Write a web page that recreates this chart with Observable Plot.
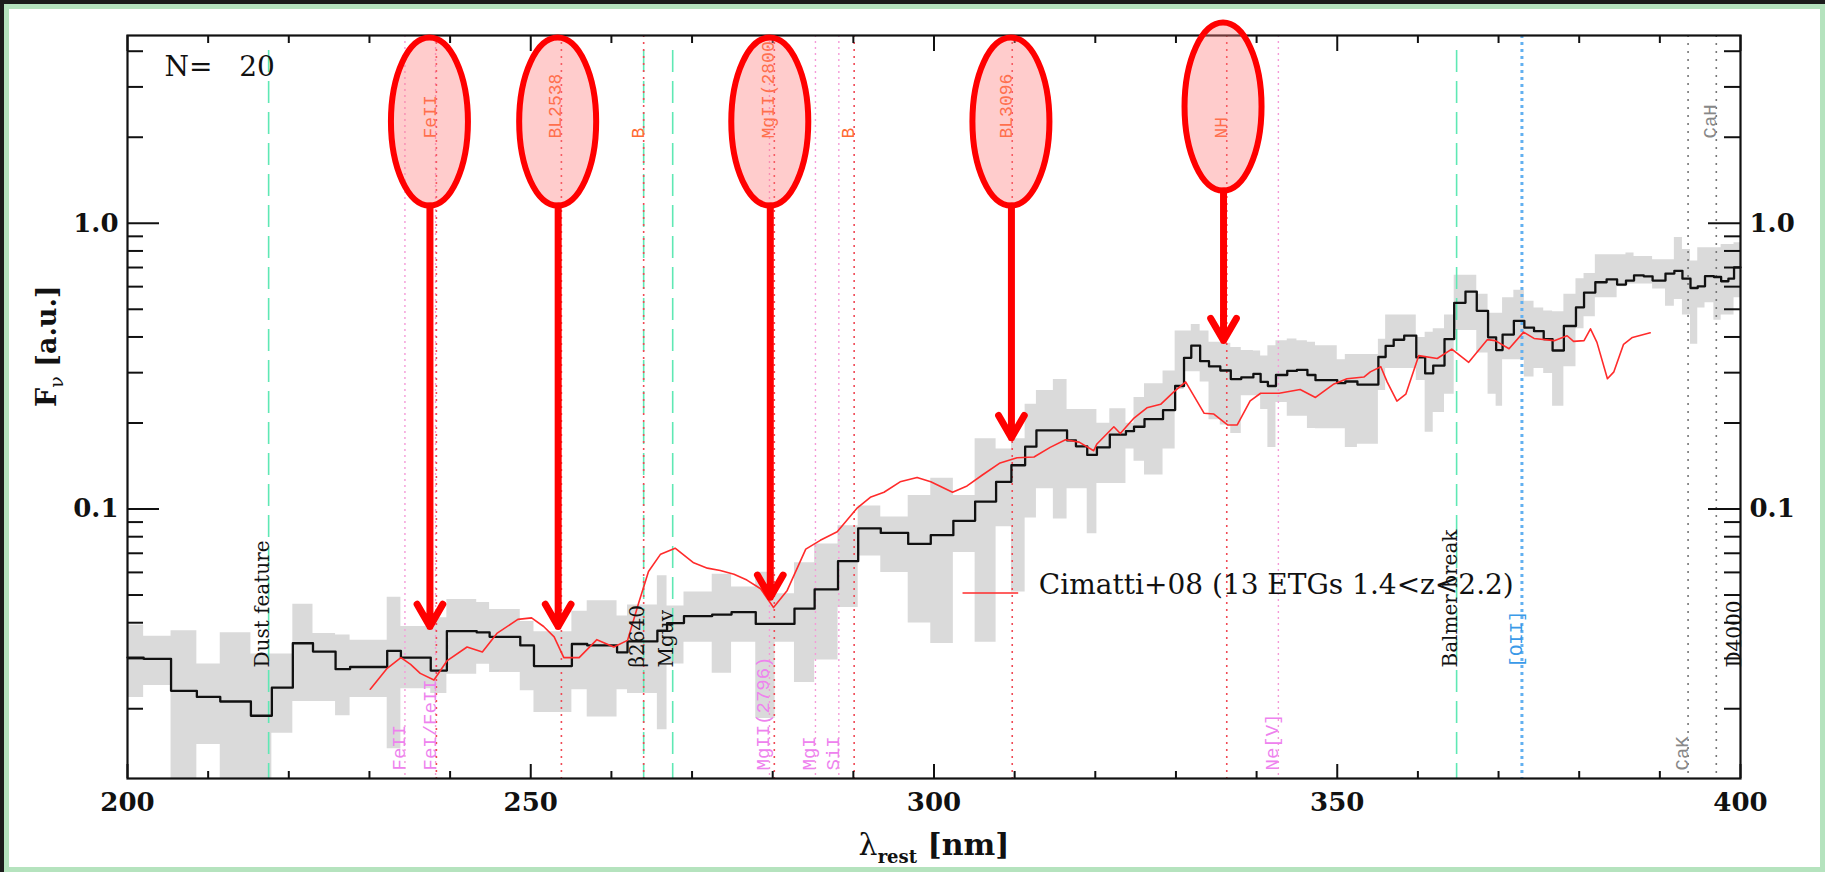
<!DOCTYPE html>
<html><head><meta charset="utf-8">
<script src="https://cdn.jsdelivr.net/npm/d3@7"></script>
<script src="https://cdn.jsdelivr.net/npm/@observablehq/plot@0.6"></script>
<style>
html,body{margin:0;padding:0;background:#1c1c1c;}
#page{position:relative;width:1825px;height:872px;background:#1c1c1c;overflow:hidden;}
#inner{position:absolute;left:4px;top:4px;width:1821px;height:868px;background:#fff;border:5px solid #b5e3be;box-sizing:border-box;}
#chart{position:absolute;left:0;top:0;width:1825px;height:872px;}
</style></head>
<body><div id="page"><div id="inner"></div><div id="chart"></div></div>
<script>
// ---- stacked spectrum (median, step histogram) : bin start wavelength [nm]
const binStart = [200.0,202.0,205.4,208.6,211.5,215.3,217.9,220.5,223.0,225.8,227.6,232.2,233.9,237.6,239.6,243.3,244.9,248.7,250.4,255.1,257.0,260.7,262.0,265.7,266.9,269.0,272.5,274.9,277.9,280.3,282.7,285.2,288.1,290.6,293.4,296.8,299.6,302.4,305.1,307.7,309.6,311.3,312.7,314.8,316.5,317.6,319.0,320.2,321.8,323.8,324.8,326.1,328.4,329.9,331.0,331.9,333.0,334.1,335.5,336.8,338.1,339.6,340.5,341.4,342.4,343.8,345.0,346.3,347.3,350.0,351.0,352.5,355.1,356.0,357.0,358.3,359.8,360.9,361.9,363.3,364.5,365.9,367.3,368.7,369.7,370.5,371.9,373.2,374.4,375.6,376.7,378.1,379.6,380.6,382.0,383.4,384.7,385.8,386.8,388.0,389.1,390.7,391.8,392.8,393.8,394.7,395.6,396.7,397.6,398.5,399.2];
const binEnd = 400;
const fluxMedian = [0.0302,0.0299,0.0231,0.0220,0.0212,0.0189,0.0237,0.0339,0.0317,0.0275,
0.0280,0.0319,0.0302,0.0272,0.0374,0.0370,0.0357,0.0333,0.0282,0.0337,
0.0333,0.0315,0.0344,0.0375,0.0399,0.0422,0.0427,0.0436,0.0396,0.0396,
0.0448,0.0523,0.0657,0.0856,0.0825,0.0755,0.0810,0.0909,0.1062,0.1245,
0.1423,0.1652,0.1884,0.1884,0.1738,0.1657,0.1546,0.1643,0.1820,0.1873,
0.1940,0.2063,0.2219,0.2695,0.3382,0.3728,0.3291,0.3156,0.3053,0.2849,
0.2888,0.2969,0.2785,0.2695,0.2944,0.3043,0.3070,0.2944,0.2824,0.2756,
0.2794,0.2725,0.3404,0.3720,0.3911,0.4043,0.3393,0.2981,0.3176,0.3932,
0.5266,0.5768,0.4938,0.3988,0.3598,0.4079,0.4554,0.4311,0.4192,0.3932,
0.3587,0.4370,0.5079,0.5722,0.6217,0.6360,0.6099,0.6303,0.6574,0.6521,
0.6303,0.6665,0.6817,0.6397,0.5934,0.6016,0.6536,0.6484,0.6268,0.6397,
0.7006];
const fluxLow = [0.0219,0.0241,0.0100,0.0150,0.0100,0.0100,0.0164,0.0212,0.0212,0.0189,
0.0219,0.0145,0.0235,0.0226,0.0264,0.0286,0.0268,0.0231,0.0194,0.0233,
0.0187,0.0233,0.0226,0.0169,0.0287,0.0342,0.0266,0.0342,0.0185,0.0342,
0.0247,0.0296,0.0452,0.0685,0.0600,0.0399,0.0338,0.0705,0.0342,0.0867,
0.0512,0.0930,0.1178,0.0922,0.1178,0.1178,0.0820,0.1227,0.1227,0.1621,
0.1470,0.1315,0.1621,0.2620,0.3025,0.3025,0.2784,0.2051,0.1969,0.1837,
0.2491,0.2491,0.2231,0.1643,0.2359,0.2111,0.2111,0.1914,0.1911,0.1911,
0.1640,0.1686,0.2598,0.3105,0.3105,0.3105,0.2818,0.1857,0.2177,0.2522,
0.4214,0.4214,0.3517,0.2522,0.2287,0.3327,0.3327,0.2897,0.3105,0.2979,
0.2287,0.3148,0.4272,0.4711,0.5487,0.5487,0.6000,0.6135,0.6135,0.6135,
0.5883,0.5119,0.5412,0.4776,0.3769,0.5049,0.5266,0.4579,0.4776,0.4776,
0.5487];
const fluxHigh = [0.0393,0.0359,0.0375,0.0287,0.0369,0.0311,0.0311,0.0464,0.0367,0.0362,
0.0347,0.0491,0.0388,0.0416,0.0482,0.0471,0.0445,0.0404,0.0372,0.0439,
0.0477,0.0422,0.0461,0.0584,0.0458,0.0512,0.0591,0.0533,0.0601,0.0505,
0.0648,0.0755,0.0873,0.1024,0.0937,0.1114,0.1280,0.1114,0.1761,0.1621,
0.1761,0.2325,0.2598,0.2839,0.2231,0.2231,0.2231,0.1996,0.2244,0.1996,
0.2457,0.2746,0.3043,0.4200,0.4200,0.4426,0.4200,0.3831,0.3800,0.3677,
0.3584,0.3574,0.3428,0.3728,0.3882,0.3938,0.3882,0.3831,0.3728,0.3327,
0.3472,0.3472,0.3930,0.4776,0.4776,0.4776,0.3983,0.4159,0.4272,0.4776,
0.6576,0.6576,0.5644,0.4842,0.4842,0.5487,0.5831,0.5339,0.5049,0.4931,
0.4904,0.5644,0.6396,0.6665,0.7766,0.7766,0.7766,0.7873,0.7652,0.7652,
0.7448,0.7448,0.8922,0.8091,0.7376,0.8210,0.8210,0.8210,0.8431,0.8431,
0.8550];

// ---- Cimatti+08 template (red)
const cimattiNm = [230.1,232.2,233.9,235.1,236.3,238.0,239.6,242.1,244.0,245.8,
248.4,250.1,251.6,252.9,254.1,256.0,258.2,260.3,262.0,263.4,
264.6,266.1,267.9,270.2,271.9,273.5,275.2,276.8,278.5,280.1,
281.8,284.1,285.9,288.0,290.5,292.1,293.8,295.8,297.9,299.6,
302.3,304.1,306.0,308.2,310.3,312.4,314.4,316.3,318.0,319.8,
320.2,322.3,323.1,324.8,326.4,328.1,329.7,331.2,333.5,334.7,
336.4,337.6,339.2,340.5,342.8,345.4,347.3,349.6,351.2,353.3,
354.1,355.4,356.2,357.4,358.5,360.1,362.4,364.2,366.3,368.6,
369.6,371.3,373.1,374.4,376.9,378.5,379.3,380.6,381.4,382.2,
383.5,384.3,385.5,386.6,388.8];
const cimattiFlux = [0.0234,0.0277,0.0302,0.0286,0.0266,0.0252,0.0294,0.0329,0.0316,0.0367,
0.0411,0.0416,0.0388,0.0357,0.0302,0.0302,0.0349,0.0329,0.0347,0.0471,
0.0604,0.0695,0.0729,0.0648,0.0621,0.0609,0.0591,0.0564,0.0526,0.0452,
0.0519,0.0724,0.0777,0.0832,0.1010,0.1099,0.1145,0.1245,0.1290,0.1245,
0.1145,0.1204,0.1315,0.1450,0.1512,0.1520,0.1643,0.1747,0.1714,0.1599,
0.1689,0.1940,0.1837,0.2081,0.2261,0.2325,0.2563,0.2784,0.2162,0.2149,
0.1969,0.1969,0.2391,0.2542,0.2542,0.2620,0.2457,0.2740,0.2857,0.2897,
0.3020,0.3148,0.2780,0.2385,0.2522,0.3441,0.3362,0.3629,0.3261,0.3915,
0.3883,0.3638,0.4159,0.3953,0.3883,0.4040,0.3861,0.3883,0.4272,0.3830,
0.2857,0.3020,0.3769,0.3985,0.4137];

// ---- ticks
const xMajorTicks = [200, 250, 300, 350, 400];
const xTickLabels = ["200", "250", "300", "350", "400"];
const xMinorTicks = [210,220,230,240,260,270,280,290,310,320,330,340,360,370,380,390];
const yMajorTicks = [0.1, 1];
const yTickLabels = ["0.1", "1.0"];
const yMinorTicks = [0.02,0.03,0.04,0.05,0.06,0.07,0.08,0.09,0.2,0.3,0.4,0.5,0.6,0.7,0.8,0.9,2,3,4];

// ---- spectral feature lines [nm]
const greenLines = [217.5, 264.0, 267.6, 364.8];
const redLines = [238.3, 253.8, 264.0, 280.2, 290.1, 309.7, 336.3];
const redLineLabels = ["FeII", "BL2538", "B", "MgII(2800", "B", "BL3096", "NH"];
const pinkLines = [234.4, 238.2, 279.6, 285.3, 288.2, 342.7];
const pinkLineLabels = ["FeII", "FeI/FeII", "MgII(2796)", "MgI", "SiI", "Ne[V]"];
const blueLines = [372.9];
const blueLineLabels = ["[OII]"];
const grayLines = [393.5, 397.0];
const grayLabelsBottom = ["CaK"];
const grayLabelsTop = ["CaH"];
const blackLabelNm = [217.5, 264.0, 267.6, 364.8, 400];
const blackLabels = ["Dust feature", "\u03b22640", "Mguv", "Balmer break", "D4000"];

// ---- highlighted features (ellipse + arrow)
const annotNm = [237.5, 253.4, 279.7, 309.6, 335.9];
const annotCenter = [2.26, 2.26, 2.26, 2.26, 2.55];
const annotTip = [0.0388, 0.0388, 0.0491, 0.1776, 0.3884];

const legendText = "Cimatti+08 (13 ETGs 1.4<z<2.2)";
const countText = "N=\u00a0\u00a0\u00a020";

const bins = binStart.map((nm, i) => ({nm, med: fluxMedian[i], lo: fluxLow[i], hi: fluxHigh[i]}));
bins.push({...bins[bins.length - 1], nm: binEnd});
const cimatti = cimattiNm.map((nm, i) => ({nm, flux: cimattiFlux[i]}));

const W = 1825, H = 872, mT = 35, mB = 94, mL = 127, mR = 85;
const fw = W - mL - mR, fh = H - mT - mB;
const SERIF = "DejaVu Serif", MONO = "Liberation Mono";

const plot = Plot.plot({
  width: W, height: H, marginTop: mT, marginBottom: mB, marginLeft: mL, marginRight: mR,
  style: {background: "transparent", overflow: "visible", maxWidth: "none"},
  x: {domain: [200, 400], axis: null},
  y: {type: "log", domain: [0.0114, 4.54], axis: null},
  marks: [
    Plot.areaY(bins, {x: "nm", y1: "lo", y2: "hi", curve: "step-after", fill: "#dadada", clip: true}),
    Plot.ruleX(greenLines, {x: d => d, insetTop: 15, stroke: "#5fe8b4", strokeWidth: 1.6, strokeDasharray: "22,9"}),
    Plot.ruleX(pinkLines, {x: d => d, stroke: "#f59ad8", strokeWidth: 1.4, strokeDasharray: "2,4"}),
    Plot.ruleX(redLines, {x: d => d, stroke: "#f04a55", strokeWidth: 1.6, strokeDasharray: "2,5"}),
    Plot.ruleX(blueLines, {x: d => d, stroke: "#62b0f0", strokeWidth: 3, strokeDasharray: "3,4"}),
    Plot.ruleX(grayLines, {x: d => d, stroke: "#777", strokeWidth: 1.6, strokeDasharray: "2,6"}),
    Plot.line(bins, {x: "nm", y: "med", curve: "step-after", stroke: "#111", strokeWidth: 2.3}),
    Plot.line(cimatti, {x: "nm", y: "flux", stroke: "#ff2b2b", strokeWidth: 1.6}),
    // legend
    Plot.ruleY([0.0508], {x1: 303.6, x2: 310.5, stroke: "#ff2b2b", strokeWidth: 1.6}),
    Plot.text([legendText], {x: 313.0, y: 0.0508, text: d => d, textAnchor: "start", lineAnchor: "bottom", dy: 1, fontSize: 28, fontFamily: SERIF, fill: "#111"}),
    Plot.text([countText], {frameAnchor: "top-left", text: d => d, dx: 37, dy: 40, textAnchor: "start", lineAnchor: "bottom", fontSize: 28, fontFamily: SERIF, fill: "#111"}),
    // feature labels
    Plot.text(redLineLabels, {x: (d, i) => redLines[i], text: d => d, frameAnchor: "top", dy: 103, rotate: -90, textAnchor: "start", lineAnchor: "bottom", fill: "#ff6a33", fontFamily: MONO, fontSize: 18}),
    Plot.text(grayLabelsTop, {x: grayLines[1], text: d => d, frameAnchor: "top", dy: 103, rotate: -90, textAnchor: "start", lineAnchor: "bottom", fill: "#888", fontFamily: MONO, fontSize: 19}),
    Plot.text(pinkLineLabels, {x: (d, i) => pinkLines[i], text: d => d, frameAnchor: "bottom", dy: -8, rotate: -90, textAnchor: "start", lineAnchor: "bottom", fill: "#ee82ee", fontFamily: MONO, fontSize: 19}),
    Plot.text(grayLabelsBottom, {x: grayLines[0], text: d => d, frameAnchor: "bottom", dy: -8, rotate: -90, textAnchor: "start", lineAnchor: "bottom", fill: "#888", fontFamily: MONO, fontSize: 19}),
    Plot.text(blueLineLabels, {x: blueLines[0], text: d => d, frameAnchor: "bottom", dy: -111, rotate: -90, textAnchor: "start", lineAnchor: "bottom", fill: "#3a9ae8", fontFamily: MONO, fontSize: 19}),
    Plot.text(blackLabels, {x: (d, i) => blackLabelNm[i], text: d => d, frameAnchor: "bottom", dy: -111, rotate: -90, textAnchor: "start", lineAnchor: "bottom", fill: "#111", fontFamily: SERIF, fontSize: 20}),
    // arrows
    Plot.arrow(annotNm, {x1: d => d, x2: d => d, y1: (d, i) => annotCenter[i], y2: (d, i) => annotTip[i], insetStart: 84, stroke: "#ff0000", strokeWidth: 7, headLength: 5.5, headAngle: 60, strokeLinecap: "round"}),
    // ticks
    Plot.tickX(xMinorTicks, {x: d => d, insetTop: fh - 7, stroke: "#111", strokeWidth: 2}),
    Plot.tickX(xMajorTicks, {x: d => d, insetTop: fh - 14, stroke: "#111", strokeWidth: 2}),
    Plot.tickX(xMinorTicks, {x: d => d, insetBottom: fh - 8, stroke: "#111", strokeWidth: 2}),
    Plot.tickX(xMajorTicks, {x: d => d, insetBottom: fh - 16, stroke: "#111", strokeWidth: 2}),
    Plot.tickY(yMinorTicks, {y: d => d, insetRight: fw - 16, stroke: "#111", strokeWidth: 2}),
    Plot.tickY(yMajorTicks, {y: d => d, insetRight: fw - 32, stroke: "#111", strokeWidth: 2}),
    Plot.tickY(yMinorTicks, {y: d => d, insetLeft: fw - 16, stroke: "#111", strokeWidth: 2}),
    Plot.tickY(yMajorTicks, {y: d => d, insetLeft: fw - 32, stroke: "#111", strokeWidth: 2}),
    Plot.frame({stroke: "#111", strokeWidth: 2.2}),
    // tick labels
    Plot.text(xMajorTicks, {x: d => d, text: (d, i) => xTickLabels[i], frameAnchor: "bottom", dy: 32, fontSize: 26, fontWeight: "bold", fontFamily: SERIF, fill: "#111"}),
    Plot.text(yMajorTicks, {y: d => d, text: (d, i) => yTickLabels[i], frameAnchor: "left", dx: -9, textAnchor: "end", fontSize: 26, fontWeight: "bold", fontFamily: SERIF, fill: "#111"}),
    Plot.text(yMajorTicks, {y: d => d, text: (d, i) => yTickLabels[i], frameAnchor: "right", dx: 9, textAnchor: "start", fontSize: 26, fontWeight: "bold", fontFamily: SERIF, fill: "#111"}),
    // axis titles
    Plot.text(["X_TITLE"], {x: 300, text: d => d, frameAnchor: "bottom", dy: 76, lineAnchor: "bottom", fontSize: 30, fontFamily: SERIF, fill: "#111"}),
    Plot.text(["Y_TITLE"], {frameAnchor: "left", text: d => d, dx: -72, rotate: -90, lineAnchor: "bottom", fontSize: 27, fontFamily: SERIF, fill: "#111"})
  ]
});

document.getElementById("chart").appendChild(plot);

// axis titles with subscripts
d3.select(plot).selectAll("text").each(function () {
  const t = this.textContent;
  if (t === "X_TITLE") {
    const s = d3.select(this); s.text(null);
    s.append("tspan").text("\u03bb");
    s.append("tspan").attr("font-weight", "bold").attr("font-size", 18).attr("dy", 8).text("rest");
    s.append("tspan").attr("font-weight", "bold").attr("dy", -8).text(" [nm]");
  } else if (t === "Y_TITLE") {
    const s = d3.select(this); s.text(null);
    s.append("tspan").attr("font-weight", "bold").text("F");
    s.append("tspan").attr("font-size", 19).attr("dy", 7).text("\u03bd");
    s.append("tspan").attr("font-weight", "bold").attr("dy", -7).text(" [a.u.]");
  }
});

// highlight ellipses placed through Plot's scales
const sx = plot.scale("x"), sy = plot.scale("y");
const g = d3.select(plot).append("g");
annotNm.forEach((nm, i) => {
  g.append("ellipse")
    .attr("cx", sx.apply(nm)).attr("cy", sy.apply(annotCenter[i]))
    .attr("rx", 38.5).attr("ry", 84)
    .attr("fill", "#ff7a7a").attr("fill-opacity", 0.38)
    .attr("stroke", "#ff0000").attr("stroke-width", 6);
});
</script>
</body></html>
